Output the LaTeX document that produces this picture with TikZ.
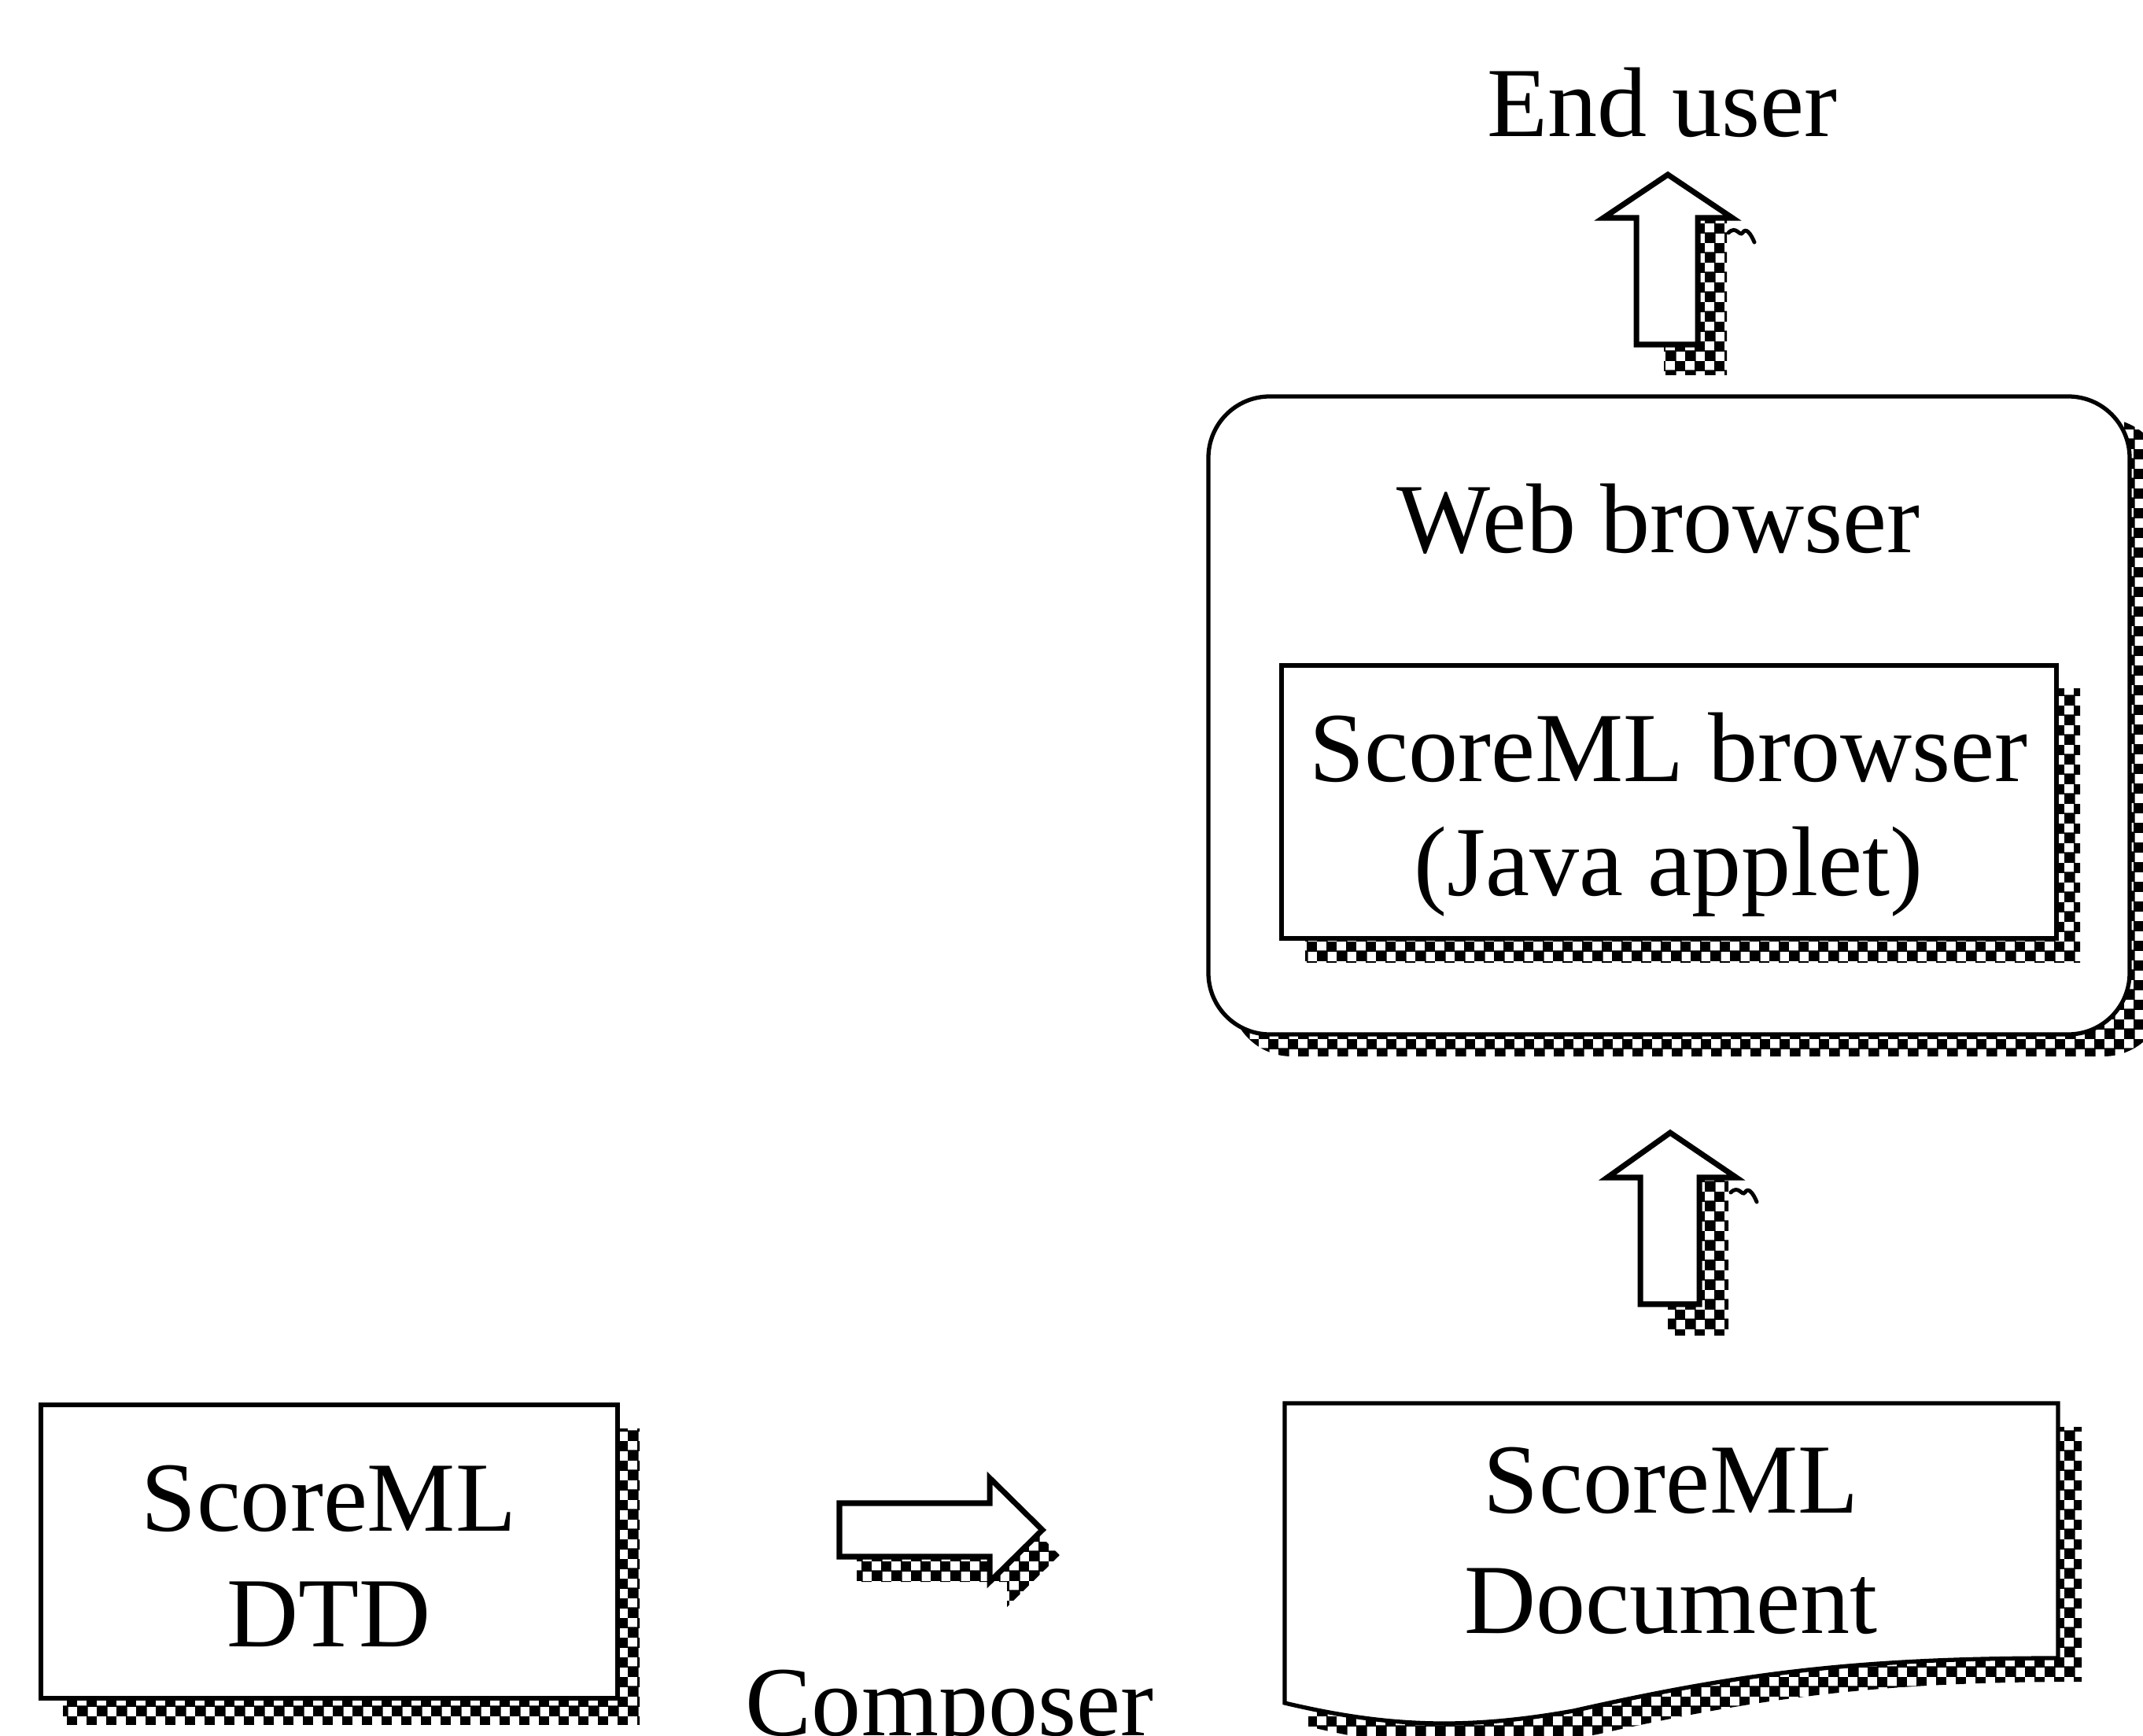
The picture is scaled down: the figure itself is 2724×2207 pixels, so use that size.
\documentclass[tikz,border=0pt]{standalone}
\usepackage{fontspec}
\setmainfont{Liberation Serif}
\usetikzlibrary{patterns}

% coarse checkerboard used for the drop shadows
\pgfdeclarepatternformonly{shadowcheck}{\pgfqpoint{0pt}{0pt}}{\pgfqpoint{7pt}{7pt}}{\pgfqpoint{7pt}{7pt}}{%
  \pgfpathrectangle{\pgfqpoint{0pt}{0pt}}{\pgfqpoint{3.9pt}{3.9pt}}%
  \pgfpathrectangle{\pgfqpoint{3.5pt}{3.5pt}}{\pgfqpoint{3.9pt}{3.9pt}}%
  \pgfusepath{fill}}

\tikzset{
  outline/.style={draw=black, line width=1.5pt, fill=white, line join=miter},
  blockarrow/.style={outline, line width=2pt},
  shadowfill/.style={pattern=shadowcheck, pattern color=black},
  txt/.style={font=\fontsize{35.85pt}{42pt}\selectfont, inner sep=0pt, anchor=base},
  squiggle/.style={draw=black, line width=1.4pt, line cap=round},
}

\begin{document}
\begin{tikzpicture}[x=0.01cm, y=-0.01cm]
\useasboundingbox (0,0) rectangle (2724,2207);
\clip (0,0) rectangle (2724,2207);

% ---- web browser (rounded box) ----
\fill[shadowfill, rounded corners=0.78cm] (1564,532) rectangle (2752,1343);
\draw[outline, rounded corners=0.78cm] (1536,504) rectangle (2707,1315);
\node[txt] (web) at (2108,703) {Web browser};

% ---- applet box inside the browser ----
\fill[shadowfill] (1659,876) rectangle (2644,1223);
\draw[outline] (1629,846) rectangle (2614,1193);
\node[txt] (applet1) at (2121,994) {ScoreML browser};
\node[txt] (applet2) at (2121,1138) {(Java applet)};

% ---- DTD box ----
\fill[shadowfill] (80,1816) rectangle (813,2192);
\draw[outline] (52,1786) rectangle (785,2159);
\node[txt] (dtd1) at (418,1946) {ScoreML};
\node[txt] (dtd2) at (418,2093) {DTD};

% ---- document (wavy bottom edge) ----
\fill[shadowfill, shift={(30,30)}] (1633,1784) -- (2616,1784) -- (2616,2108)
  .. controls (2350,2108) and (2200,2130) .. (2000,2175)
  .. controls (1860,2200) and (1760,2195) .. (1633,2165) -- cycle;
\draw[outline] (1633,1784) -- (2616,1784) -- (2616,2108)
  .. controls (2350,2108) and (2200,2130) .. (2000,2175)
  .. controls (1860,2200) and (1760,2195) .. (1633,2165) -- cycle;
\node[txt] (doc1) at (2124,1923) {ScoreML};
\node[txt] (doc2) at (2124,2076) {Document};

% ---- composer arrow (pointing right) ----
\fill[shadowfill, shift={(22,32)}] (1067,1911) -- (1258,1911) -- (1258,1879) -- (1325,1945)
  -- (1258,2011) -- (1258,1979) -- (1067,1979) -- cycle;
\draw[blockarrow] (1067,1911) -- (1258,1911) -- (1258,1879) -- (1325,1945)
  -- (1258,2011) -- (1258,1979) -- (1067,1979) -- cycle;
\node[txt] (composer) at (1207,2206) {Composer};

% ---- arrow from document up to browser ----
\fill[shadowfill] (2120,1497) rectangle (2197,1697);
\draw[squiggle] (2200,1516) .. controls (2210,1506) and (2214,1521) .. (2218,1516)
  .. controls (2222,1509) and (2228,1516) .. (2233,1528);
\draw[blockarrow] (2123,1440) -- (2207,1497) -- (2160,1497) -- (2160,1658) -- (2085,1658)
  -- (2085,1497) -- (2043,1497) -- cycle;

% ---- arrow from browser up to the end user ----
\fill[shadowfill] (2115,277) rectangle (2195,477);
\draw[squiggle] (2197,296) .. controls (2207,286) and (2211,301) .. (2215,296)
  .. controls (2219,289) and (2225,296) .. (2230,308);
\draw[blockarrow] (2120,222) -- (2202,277) -- (2158,277) -- (2158,438) -- (2080,438)
  -- (2080,277) -- (2038,277) -- cycle;
\node[txt] (enduser) at (2113,174) {End user};

\end{tikzpicture}
\end{document}
